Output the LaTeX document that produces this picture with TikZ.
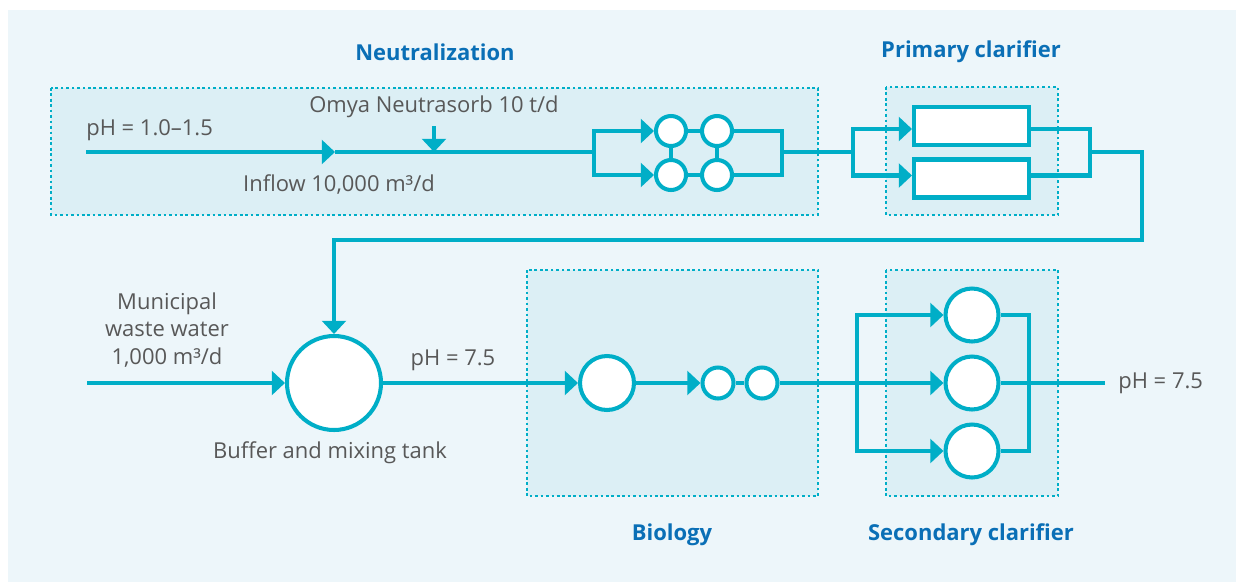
\documentclass[tikz,border=0pt]{standalone}
\usepackage{fontspec}
\setmainfont{Open Sans}
\usetikzlibrary{arrows.meta,calc}
\definecolor{teal}{HTML}{00AEC7}
\definecolor{ttl}{HTML}{0A6FB6}
\definecolor{txt}{HTML}{585858}
\definecolor{bgc}{HTML}{EDF6FA}
\definecolor{boxc}{HTML}{DCEFF5}
\begin{document}
\begin{tikzpicture}[x=0.02cm,y=-0.02cm,
  pipe/.style={draw=teal,line width=2.3pt},
  arr/.style={pipe,-{Triangle[length=7.5pt,width=13.5pt]}},
  group/.style={fill=boxc,draw=teal,line width=1.5pt,dash pattern=on 1.5pt off 1.6pt},
  tank/.style={circle,draw=teal,fill=white,line width=2.3pt,inner sep=0pt},
  basin/.style={rectangle,draw=teal,fill=white,line width=2.3pt,inner sep=0pt,minimum width=2.3cm,minimum height=0.76cm},
  lbl/.style={text=txt,font=\fontsize{12.5}{16}\selectfont,inner sep=0pt},
  title/.style={text=ttl,font=\fontsize{12.5}{15}\selectfont\bfseries,inner sep=0pt}]
\useasboundingbox (0,0) rectangle (1236,582);
\fill[bgc] (8,10) rectangle (1236,582);
% groups
\path[group] (51,88) rectangle (818,215);
\path[group] (886,87) rectangle (1058,215);
\path[group] (527,270) rectangle (818,496);
\path[group] (886,270) rectangle (1058,496);
% titles
\node[title] (tN) at (435,52) {Neutralization};
\node[title] (tP) at (971,52) {Primary clarifier};
\node[title] (tB) at (672,535) {Biology};
\node[title] (tS) at (971,535) {Secondary clarifier};
% coordinates
\coordinate (in1) at (86,152);
\coordinate (a1) at (335,152);
\coordinate (o1) at (434,126);
\coordinate (o2) at (434,152);
\coordinate (sp1) at (594,152);
\coordinate (j1) at (782,152);
\coordinate (sp2) at (853,152);
\coordinate (j2) at (1090,152);
\coordinate (k2) at (1142,240);
\coordinate (mw) at (87,383);
\coordinate (sp3) at (857,383);
\coordinate (j3) at (1029,383);
\coordinate (out) at (1105,383);
% neutralization tanks
\node[tank,minimum size=0.6cm] (c11) at (671,131) {};
\node[tank,minimum size=0.6cm] (c12) at (717,131) {};
\node[tank,minimum size=0.6cm] (c21) at (671,175) {};
\node[tank,minimum size=0.6cm] (c22) at (717,175) {};
% primary clarifiers
\node[basin] (r1) at (971.5,126) {};
\node[basin] (r2) at (971.5,178.5) {};
% buffer tank
\node[tank,minimum size=1.88cm] (buf) at (334,383) {};
% biology
\node[tank,minimum size=1.08cm] (b1) at (607,383) {};
\node[tank,minimum size=0.62cm] (b2) at (718,383) {};
\node[tank,minimum size=0.62cm] (b3) at (762,383) {};
% secondary clarifiers
\node[tank,minimum size=1.06cm] (s1) at (972,315) {};
\node[tank,minimum size=1.06cm] (s2) at (972,383) {};
\node[tank,minimum size=1.06cm] (s3) at (972,451) {};
% connectors
\draw[arr] (in1) -- (a1);
\draw[pipe] (a1) -- (sp1);
\draw[arr] (o1) -- (o2);
\draw[arr] (sp1) |- (c11);
\draw[arr] (sp1) |- (c21);
\draw[pipe] (c11) -- (c12);
\draw[pipe] (c21) -- (c22);
\draw[pipe] (c11) -- (c21);
\draw[pipe] (c12) -- (c22);
\draw[pipe] (c12) -| (j1);
\draw[pipe] (c22) -| (j1);
\draw[pipe] (j1) -- (sp2);
\draw[arr] (sp2) |- ($(r1.west)+(0,3)$);
\draw[arr] (sp2) |- ($(r2.west)+(0,-3)$);
\draw[pipe] ($(r1.east)+(0,3)$) -| (j2);
\draw[pipe] ($(r2.east)+(0,-3)$) -| (j2);
\draw[arr] (j2) -| (k2) -| (buf.north);
\draw[arr] (mw) -- (buf);
\draw[arr] (buf) -- (b1);
\draw[arr] (b1) -- (b2);
\draw[pipe] (b2) -- (b3);
\draw[pipe] (b3) -- (sp3);
\draw[arr] (sp3) |- (s1);
\draw[arr] (sp3) -- (s2);
\draw[arr] (sp3) |- (s3);
\draw[pipe] (s1) -| (j3);
\draw[pipe] (s3) -| (j3);
\draw[pipe] (s2) -- (out);
% labels
\node[lbl,anchor=west] (l1) at (86,130) {pH = 1.0–1.5};
\node[lbl] (l2) at (434,107) {Omya Neutrasorb 10 t/d};
\node[lbl] (l3) at (339,185) {Inflow 10,000 m³/d};
\node[lbl,align=center] (l4) at (167,330) {Municipal\\[-0.4pt]waste water\\1,000 m³/d};
\node[lbl] (l5) at (330,453) {Buffer and mixing tank};
\node[lbl] (l6) at (453,360) {pH = 7.5};
\node[lbl,anchor=west] (l7) at (1118,383) {pH = 7.5};
\end{tikzpicture}
\end{document}
